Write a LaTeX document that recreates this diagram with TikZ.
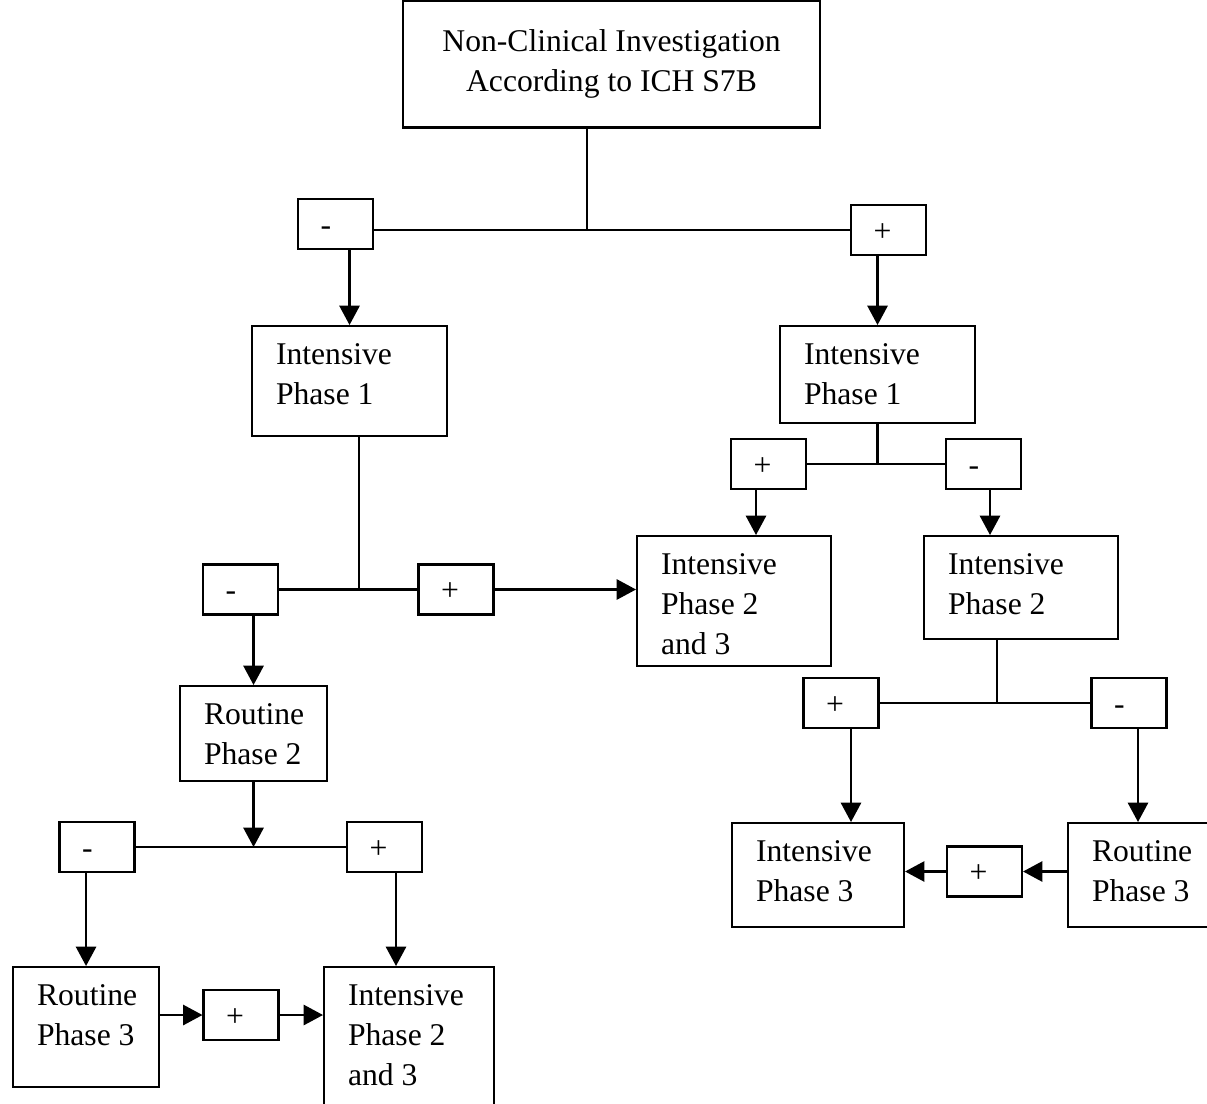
\documentclass[tikz,border=0pt]{standalone}
\usepackage{fontspec}
\setmainfont{Liberation Serif}
\usetikzlibrary{arrows.meta}

\begin{document}
\begin{tikzpicture}[x=0.02cm, y=-0.02cm, line width=1.2pt, font=\fontsize{18}{22.8}\selectfont]
		\tikzstyle{title} = [rectangle, draw=black, minimum width=8.34cm, minimum height=2.54cm, align=center]
		
		\tikzstyle{phase} = [rectangle, draw=black, anchor=north west, inner xsep=0.48cm, inner ysep=0.3cm, text height=0.46cm, align=flush left]
		
		\tikzstyle{sign} = [rectangle, draw=black, minimum width=1.5cm, minimum height=1cm, inner xsep=0.45cm, text width=0.6cm, text height=0.52cm, text depth=0.08cm, align=flush left]
		
		\tikzstyle{arrow} = [-{Triangle[length=11pt,width=11.5pt]}]
		
		\useasboundingbox (0,0) rectangle (1207,1103);
		
		% Top of the figure
		\node (top) [title] at (611.5,64) {Non-Clinical Investigation\\According to ICH S7B};
		\node (m1) [sign] at (335.5,224) {-};
		\node (p1) [sign] at (888.5,230) {+};
		
		% Phase 1
		\node (ip1l) [phase, text width=2.94cm, text depth=1.14cm] at (251,325) {Intensive\\Phase~1};
		\node (ip1r) [phase, text width=2.94cm, text depth=0.88cm] at (779,325) {Intensive\\Phase~1};
		
		% Left branch
		\node (m2) [sign] at (240.5,589.5) {-};
		\node (p2) [sign] at (456,589.5) {+};
		\node (rp2) [phase, text width=1.98cm, text depth=0.84cm] at (179,685) {Routine\\Phase~2};
		\node (m3) [sign] at (97,847) {-};
		\node (p3) [sign] at (384.5,847) {+};
		\node (rp3l) [phase, text width=1.96cm, text depth=1.34cm] at (12,966) {Routine\\Phase~3};
		\node (p6) [sign] at (241,1015) {+};
		\node (ip23b) [phase, text width=2.44cm, text depth=1.84cm] at (323,966) {Intensive\\Phase~2\\and~3};
		
		% Right branch
		\node (p4) [sign] at (768.5,464) {+};
		\node (m4) [sign] at (983.5,464) {-};
		\node (ip23m) [phase, text width=2.92cm, text depth=1.54cm] at (636,535) {Intensive\\Phase~2\\and~3};
		\node (ip2r) [phase, text width=2.92cm, text depth=1.0cm] at (923,535) {Intensive\\Phase~2};
		\node (p5) [sign] at (841,703) {+};
		\node (m5) [sign] at (1129,703) {-};
		\node (ip3r) [phase, text width=2.48cm, text depth=1.02cm] at (731,822) {Intensive\\Phase~3};
		\node (rp3r) [phase, text width=2.1cm, text depth=1.02cm] at (1067,822) {Routine\\Phase~3};
		\node (p7) [sign] at (984.5,871.5) {+};
		
		% Stems
		\coordinate (s1) at ([xshift=-0.49cm]top.south);
		\coordinate (s2) at ([xshift=0.19cm]ip1l.south);
		\coordinate (s5) at ([xshift=-0.48cm]ip2r.south);
		\coordinate (j1) at (s1 |- p1.west);
		
		% Lines
		\draw (s1) -- (j1);
		\draw (m1.east |- j1) -- (p1.west);
		\draw (s2) -- (s2 |- p2.west);
		\draw (m2.east) -- (p2.west);
		\draw (m3.east) -- (p3.west);
		\draw (ip1r.south) -- (ip1r.south |- p4.east);
		\draw (p4.east) -- (m4.west);
		\draw (s5) -- (s5 |- p5.east);
		\draw (p5.east) -- (m5.west);
		
		% Arrows
		\coordinate (a3) at ([xshift=0.23cm]p3.south);
		\coordinate (a4) at ([xshift=-0.25cm]p4.south);
		\coordinate (b4) at ([xshift=0.13cm]m4.south);
		\coordinate (a5) at ([xshift=0.2cm]p5.south);
		\coordinate (b5) at ([xshift=0.18cm]m5.south);
		\draw [arrow] (m1.south -| ip1l.north) -- (ip1l.north);
		\draw [arrow] (p1.south -| ip1r.north) -- (ip1r.north);
		\draw [arrow] (p2.east) -- (p2.east -| ip23m.west);
		\draw [arrow] (m2.south -| rp2.north) -- (rp2.north);
		\draw [arrow] (rp2.south) -- (rp2.south |- m3.east);
		\draw [arrow] (m3.south -| rp3l.north) -- (rp3l.north);
		\draw [arrow] (a3) -- (a3 |- ip23b.north);
		\draw [arrow] (rp3l.east |- p6.west) -- (p6.west);
		\draw [arrow] (p6.east) -- (p6.east -| ip23b.west);
		\draw [arrow] (a4) -- (a4 |- ip23m.north);
		\draw [arrow] (b4) -- (b4 |- ip2r.north);
		\draw [arrow] (a5) -- (a5 |- ip3r.north);
		\draw [arrow] (b5) -- (b5 |- rp3r.north);
		\draw [arrow] (rp3r.west |- p7.east) -- (p7.east);
		\draw [arrow] (p7.west) -- (p7.west -| ip3r.east);
\end{tikzpicture}
\end{document}
